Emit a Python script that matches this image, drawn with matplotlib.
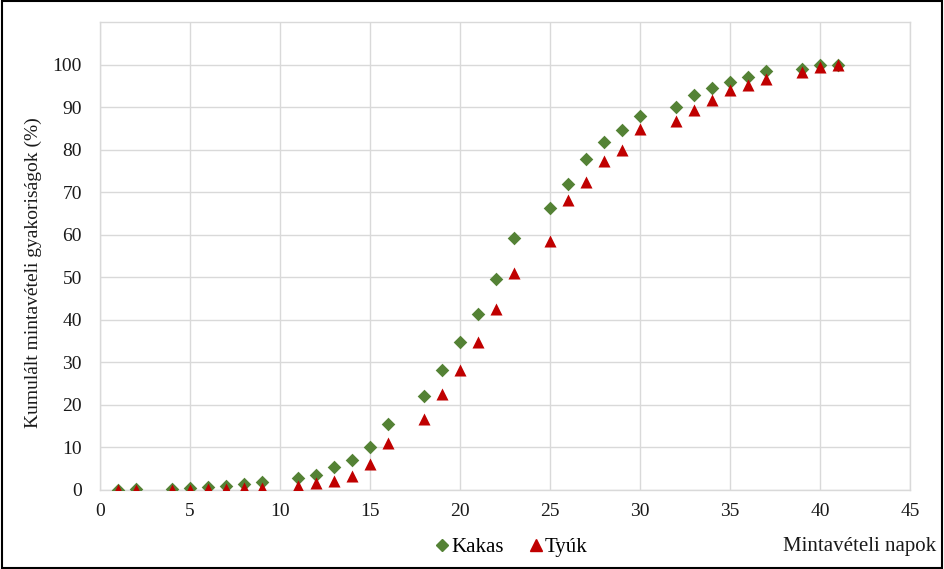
import matplotlib
matplotlib.use("Agg")
import matplotlib.pyplot as plt
from matplotlib.patches import Rectangle
from matplotlib.lines import Line2D

days = [1, 2, 4, 5, 6, 7, 8, 9, 11, 12, 13, 14, 15, 16, 18, 19, 20, 21, 22, 23,
        25, 26, 27, 28, 29, 30, 32, 33, 34, 35, 36, 37, 39, 40, 41]
kakas = [0.1, 0.2, 0.3, 0.5, 0.8, 1.0, 1.3, 1.8, 2.8, 3.6, 5.3, 7.0, 10.2, 15.4,
         22.2, 28.2, 34.8, 41.3, 49.7, 59.3, 66.2, 72.0, 77.7, 81.9, 84.6, 87.8,
         90.0, 92.8, 94.4, 95.9, 97.0, 98.4, 99.0, 99.8, 100.0]
tyuk = [0.0, 0.0, 0.0, 0.1, 0.2, 0.3, 0.4, 0.5, 0.9, 1.7, 2.2, 3.3, 6.0, 11.0,
        16.7, 22.5, 28.2, 34.8, 42.5, 51.1, 58.6, 68.1, 72.3, 77.3, 79.9, 84.9,
        86.8, 89.2, 91.7, 93.9, 95.3, 96.5, 98.2, 99.5, 100.0]
x_ticks = [0, 5, 10, 15, 20, 25, 30, 35, 40, 45]
y_ticks = [0, 10, 20, 30, 40, 50, 60, 70, 80, 90, 100]

GREEN = "#548235"
RED = "#C00000"
GRID = "#d9d9d9"
TXT = "#1a1a1a"

plt.rcParams['font.family'] = ['Liberation Serif', 'DejaVu Serif']

fig = plt.figure(figsize=(9.44, 5.69), dpi=100)
ax = fig.add_axes([100/944, 79/569, 810/944, 468/569])

ax.scatter(days, kakas, marker='D', s=48, color=GREEN, zorder=3, linewidths=0)
ax.scatter(days, tyuk, marker='^', s=75, color=RED, zorder=4, linewidths=0)

ax.set_xlim(0, 45)
ax.set_ylim(0, 110)
ax.set_xticks(x_ticks)
ax.set_yticks(y_ticks)
ax.tick_params(length=0, labelsize=14, colors=TXT)
ax.tick_params(axis='x', pad=9)
ax.tick_params(axis='y', pad=13)
ax.grid(True, color=GRID, linewidth=1)
ax.set_axisbelow(True)
for s in ax.spines.values():
    s.set_color(GRID)
    s.set_linewidth(1)

ax.set_ylabel("Kumulált mintavételi gyakoriságok (%)", fontsize=14, color=TXT)
ax.yaxis.set_label_coords((42 - 100) / 810, (490 - 273) / 468)

handles = [Line2D([], [], marker='D', color=GREEN, linestyle='none', markersize=6),
           Line2D([], [], marker='^', color=RED, linestyle='none', markersize=8)]
fig.legend(handles, ["Kakas", "Tyúk"], loc='center', bbox_to_anchor=(512/944, 1 - 547/569),
           ncol=2, frameon=False, fontsize=15, handlelength=0.6, handletextpad=0.15,
           columnspacing=1.2)

fig.text(936/944, 1 - 547/569, "Mintavételi napok", ha='right', va='center',
         fontsize=15, color=TXT)

fig.patches.append(Rectangle((0.002, 0.002), 0.996, 0.996, transform=fig.transFigure,
                             fill=False, edgecolor='black', linewidth=1.5))

fig.savefig("out.png", dpi=100)
